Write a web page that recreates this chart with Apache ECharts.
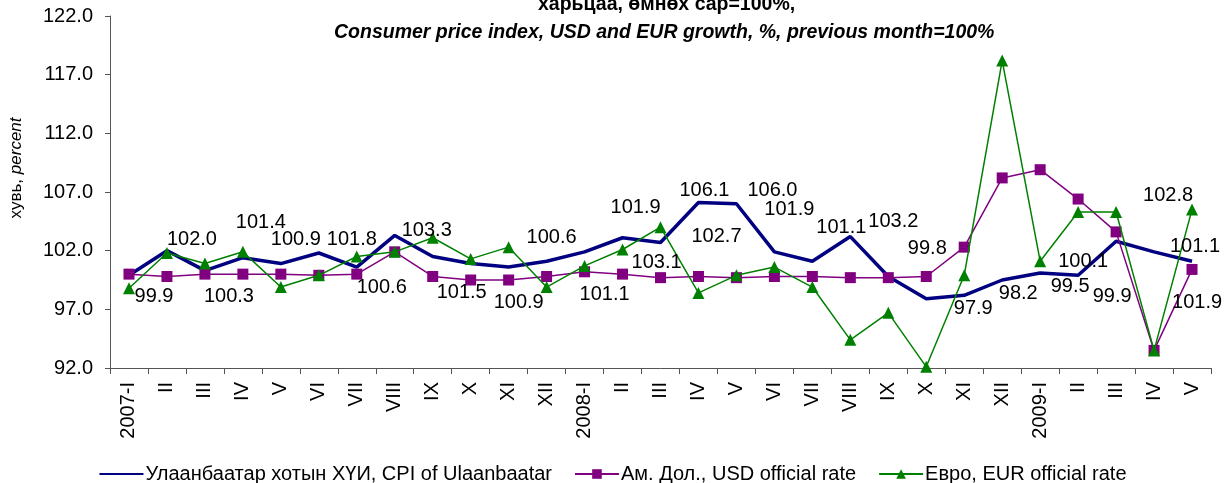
<!DOCTYPE html>
<html>
<head>
<meta charset="utf-8">
<script src="https://cdn.jsdelivr.net/npm/echarts@6/dist/echarts.min.js"></script>
<style>
html,body{margin:0;padding:0;background:#fff;}
#chart{width:1225px;height:483px;}
</style>
</head>
<body>
<div id="chart"></div>
<script>
const categories = ['2007-I','II','III','IV','V','VI','VII','VIII','IX','X','XI','XII',
  '2008-I','II','III','IV','V','VI','VII','VIII','IX','X','XI','XII',
  '2009-I','II','III','IV','V'];
const cpi = [99.9,102.0,100.3,101.4,100.9,101.8,100.6,103.3,101.5,100.9,100.6,101.1,
  101.9,103.1,102.7,106.1,106.0,101.9,101.1,103.2,99.8,97.9,98.2,99.5,
  100.1,99.9,102.8,101.9,101.1];
const usd = [100.0,99.8,100.0,100.0,100.0,99.9,100.0,101.9,99.8,99.5,99.5,99.8,
  100.2,100.0,99.7,99.8,99.7,99.8,99.8,99.7,99.7,99.8,102.3,108.2,
  108.9,106.4,103.6,93.5,100.4];
const eur = [98.8,101.8,100.9,101.9,98.9,99.9,101.5,101.9,103.1,101.3,102.3,98.9,
  100.7,102.1,104.0,98.4,99.9,100.6,98.9,94.4,96.7,92.1,99.9,118.2,
  101.1,105.3,105.3,93.5,105.5];
const yTicks = [92,97,102,107,112,117,122];
const seriesNames = ['Улаанбаатар хотын ХҮИ, CPI of Ulaanbaatar','Ам. Дол., USD official rate','Евро, EUR official rate'];

// label placement (style only)
const labelShift = [[25,21],[25,-11],[24,26],[18,-35],[15,-24],[33,-14],[25,20],[32,-5],[29,36],[48,39],[43,-30],[58,33],
  [51,-44],[34,25],[56,-6],[6,-12],[36,-13],[15,-42],[29,-34],[43,-15],[39,-28],[47,10],[54,-2],[68,6],
  [43,-11],[34,21],[52,-46],[43,51],[3,-15]];

const FONT = 'Liberation Sans, Arial, sans-serif';
const chart = echarts.init(document.getElementById('chart'));
const option = {
  animation: false,
  title: [
    {text: 'харьцаа, өмнөх сар=100%,', left: 533, top: -10,
     textStyle: {fontFamily: FONT, fontSize: 19.5, fontWeight: 'bold', color: '#000'}},
    {text: 'Consumer price index, USD and EUR growth, %, previous month=100%', left: 329, top: 18,
     textStyle: {fontFamily: FONT, fontSize: 19.5, fontWeight: 'bold', fontStyle: 'italic', color: '#000'}}
  ],
  grid: {left: 110, right: 14, top: 16, bottom: 115},
  legend: {
    data: [{name: seriesNames[0], itemStyle: {opacity: 0}}, seriesNames[1], seriesNames[2]],
    top: 459, left: 'center', itemWidth: 44, itemHeight: 12, itemGap: 22,
    textStyle: {fontFamily: FONT, fontSize: 20, color: '#000', padding: [0,0,0,-3]}
  },
  xAxis: {
    type: 'category', data: categories, boundaryGap: true,
    axisLine: {lineStyle: {color: '#555', width: 1}},
    axisTick: {show: true, length: 6, lineStyle: {color: '#555'}},
    axisLabel: {interval: 0, rotate: 90, margin: 14, fontFamily: FONT, fontSize: 20, color: '#000'}
  },
  yAxis: {
    type: 'value', min: 92, max: 122,
    name: '{a|хувь,} {b|percent}', nameLocation: 'middle', nameRotate: 90, nameGap: 85,
    nameTextStyle: {fontFamily: FONT, fontSize: 17, color: '#000', padding: [0,0,0,48],
      rich: {a: {fontFamily: FONT, fontSize: 17, color: '#000'}, b: {fontFamily: FONT, fontSize: 17, fontStyle: 'italic', color: '#000'}}},
    splitLine: {show: false},
    axisLine: {show: true, lineStyle: {color: '#555', width: 1}},
    axisTick: {show: true, length: 5, customValues: yTicks, lineStyle: {color: '#555'}},
    axisLabel: {customValues: yTicks, margin: 17, fontFamily: FONT, fontSize: 20, color: '#000',
      formatter: v => v.toFixed(1)}
  },
  series: [
    {name: seriesNames[0], type: 'line', data: cpi, symbol: 'none',
     lineStyle: {color: '#000080', width: 3.5}, itemStyle: {color: '#000080'}, z: 3},
    {name: seriesNames[1], type: 'line', data: usd, symbol: 'rect', symbolSize: 11,
     lineStyle: {color: '#800080', width: 1.5}, itemStyle: {color: '#800080'}, z: 4},
    {name: seriesNames[2], type: 'line', data: eur, symbol: 'triangle', symbolSize: 12,
     lineStyle: {color: '#008000', width: 1.5}, itemStyle: {color: '#008000'}, z: 5},
    {name: 'cpiLabels', type: 'scatter', symbol: 'circle', symbolSize: 1, silent: true,
     itemStyle: {color: '#000', opacity: 0}, z: 6,
     data: cpi.map((v, i) => ({value: v, label: {offset: labelShift[i]}})),
     label: {show: true, position: 'inside', fontFamily: FONT, fontSize: 20, color: '#000',
       opacity: 1, textBorderWidth: 0,
       formatter: p => Number(p.value).toFixed(1)}}
  ]
};
chart.setOption(option);
</script>
</body>
</html>
